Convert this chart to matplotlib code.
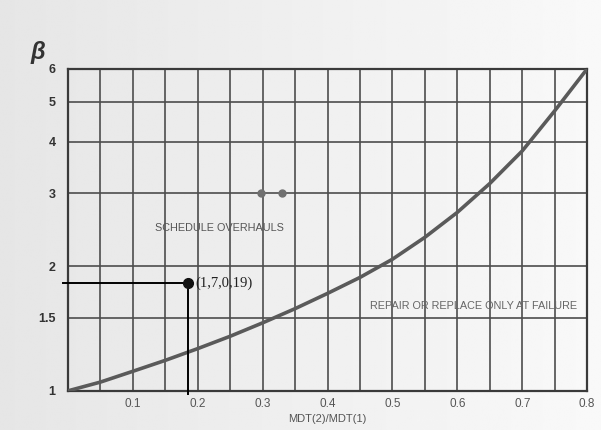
import numpy as np
import matplotlib
matplotlib.use('Agg')
import matplotlib.pyplot as plt

# Curve
mdt_ratio = [0.0, 0.05, 0.1, 0.15, 0.2, 0.25, 0.3, 0.35, 0.4, 0.45, 0.5,
             0.55, 0.6, 0.65, 0.7, 0.75, 0.8]
beta = [1.0, 1.05, 1.115, 1.185, 1.265, 1.355, 1.46, 1.58, 1.72, 1.88, 2.08,
        2.35, 2.7, 3.17, 3.8, 4.75, 6.0]

# Two grey dots on the beta=3 line
dots_x = [0.298, 0.33]
dots_y = [3.0, 3.0]

# Marked point
point_x = 0.185
point_y = 1.82
point_label = '(1,7,0,19)'

x_ticks = [0.1, 0.2, 0.3, 0.4, 0.5, 0.6, 0.7, 0.8]
x_tick_labels = ['0.1', '0.2', '0.3', '0.4', '0.5', '0.6', '0.7', '0.8']
y_ticks = [1, 1.5, 2, 3, 4, 5, 6]
y_tick_labels = ['1', '1.5', '2', '3', '4', '5', '6']

plt.rcParams['font.family'] = ['Liberation Sans', 'DejaVu Sans']

fig = plt.figure(figsize=(6.01, 4.3), dpi=100)

# paper background, darker on the left
bg = fig.add_axes([0, 0, 1, 1], zorder=-1)
shade = np.linspace(0.84, 0.96, 256) ** 0.6
bg.imshow(np.tile(shade, (10, 1)), cmap='gray', vmin=0, vmax=1,
          aspect='auto', extent=[0, 1, 0, 1])
bg.set_axis_off()

ax = fig.add_axes([0.113, 0.091, 0.864, 0.749])
ax.set_facecolor('none')
ax.set_yscale('log')
ax.set_xlim(0, 0.8)
ax.set_ylim(1, 6)

ax.set_xticks(x_ticks)
ax.set_xticklabels(x_tick_labels, color='#555555', fontsize=8.5)
ax.set_xticks(np.arange(0.05, 0.8, 0.1), minor=True)
ax.set_yticks(y_ticks)
ax.set_yticklabels(y_tick_labels, color='#333333', fontsize=9, fontweight='bold')
ax.yaxis.set_minor_locator(matplotlib.ticker.NullLocator())
ax.tick_params(axis='both', which='both', length=0)
ax.tick_params(axis='x', pad=5)
ax.tick_params(axis='y', pad=9)

ax.grid(True, which='both', color='#4d4d4d', linewidth=1.2)
for sp in ax.spines.values():
    sp.set_color('#3a3a3a')
    sp.set_linewidth(1.6)

ax.plot(mdt_ratio, beta, color='#5a5a5a', linewidth=2.6, solid_capstyle='round',
        solid_joinstyle='round', zorder=3)
ax.plot(dots_x, dots_y, 'o', color='#707070', markersize=5, zorder=3)

ax.text(0.134, 2.48, 'SCHEDULE OVERHAULS', fontsize=7.8, color='#555555', va='center')
ax.text(0.784, 1.6, 'REPAIR OR REPLACE ONLY AT FAILURE', fontsize=7.8,
        color='#666666', va='center', ha='right')

# marked point with guide lines
ax.plot([-0.008, point_x], [point_y, point_y], color='black', linewidth=1.4,
        clip_on=False, zorder=4)
ax.plot([point_x, point_x], [point_y, 0.985], color='black', linewidth=1.4,
        clip_on=False, zorder=4)
ax.plot(point_x, point_y, 'o', color='#111111', markersize=7, zorder=5)
ax.text(point_x + 0.011, point_y, point_label, fontsize=10.5, va='center',
        family='Liberation Serif', color='#222222')

ax.set_xlabel('MDT(2)/MDT(1)', fontsize=8, color='#555555', labelpad=3)
fig.text(0.063, 0.877, 'β', fontsize=17, fontstyle='italic', fontweight='bold',
         color='#333333', ha='center', va='center')

fig.savefig('out.png', dpi=100)
